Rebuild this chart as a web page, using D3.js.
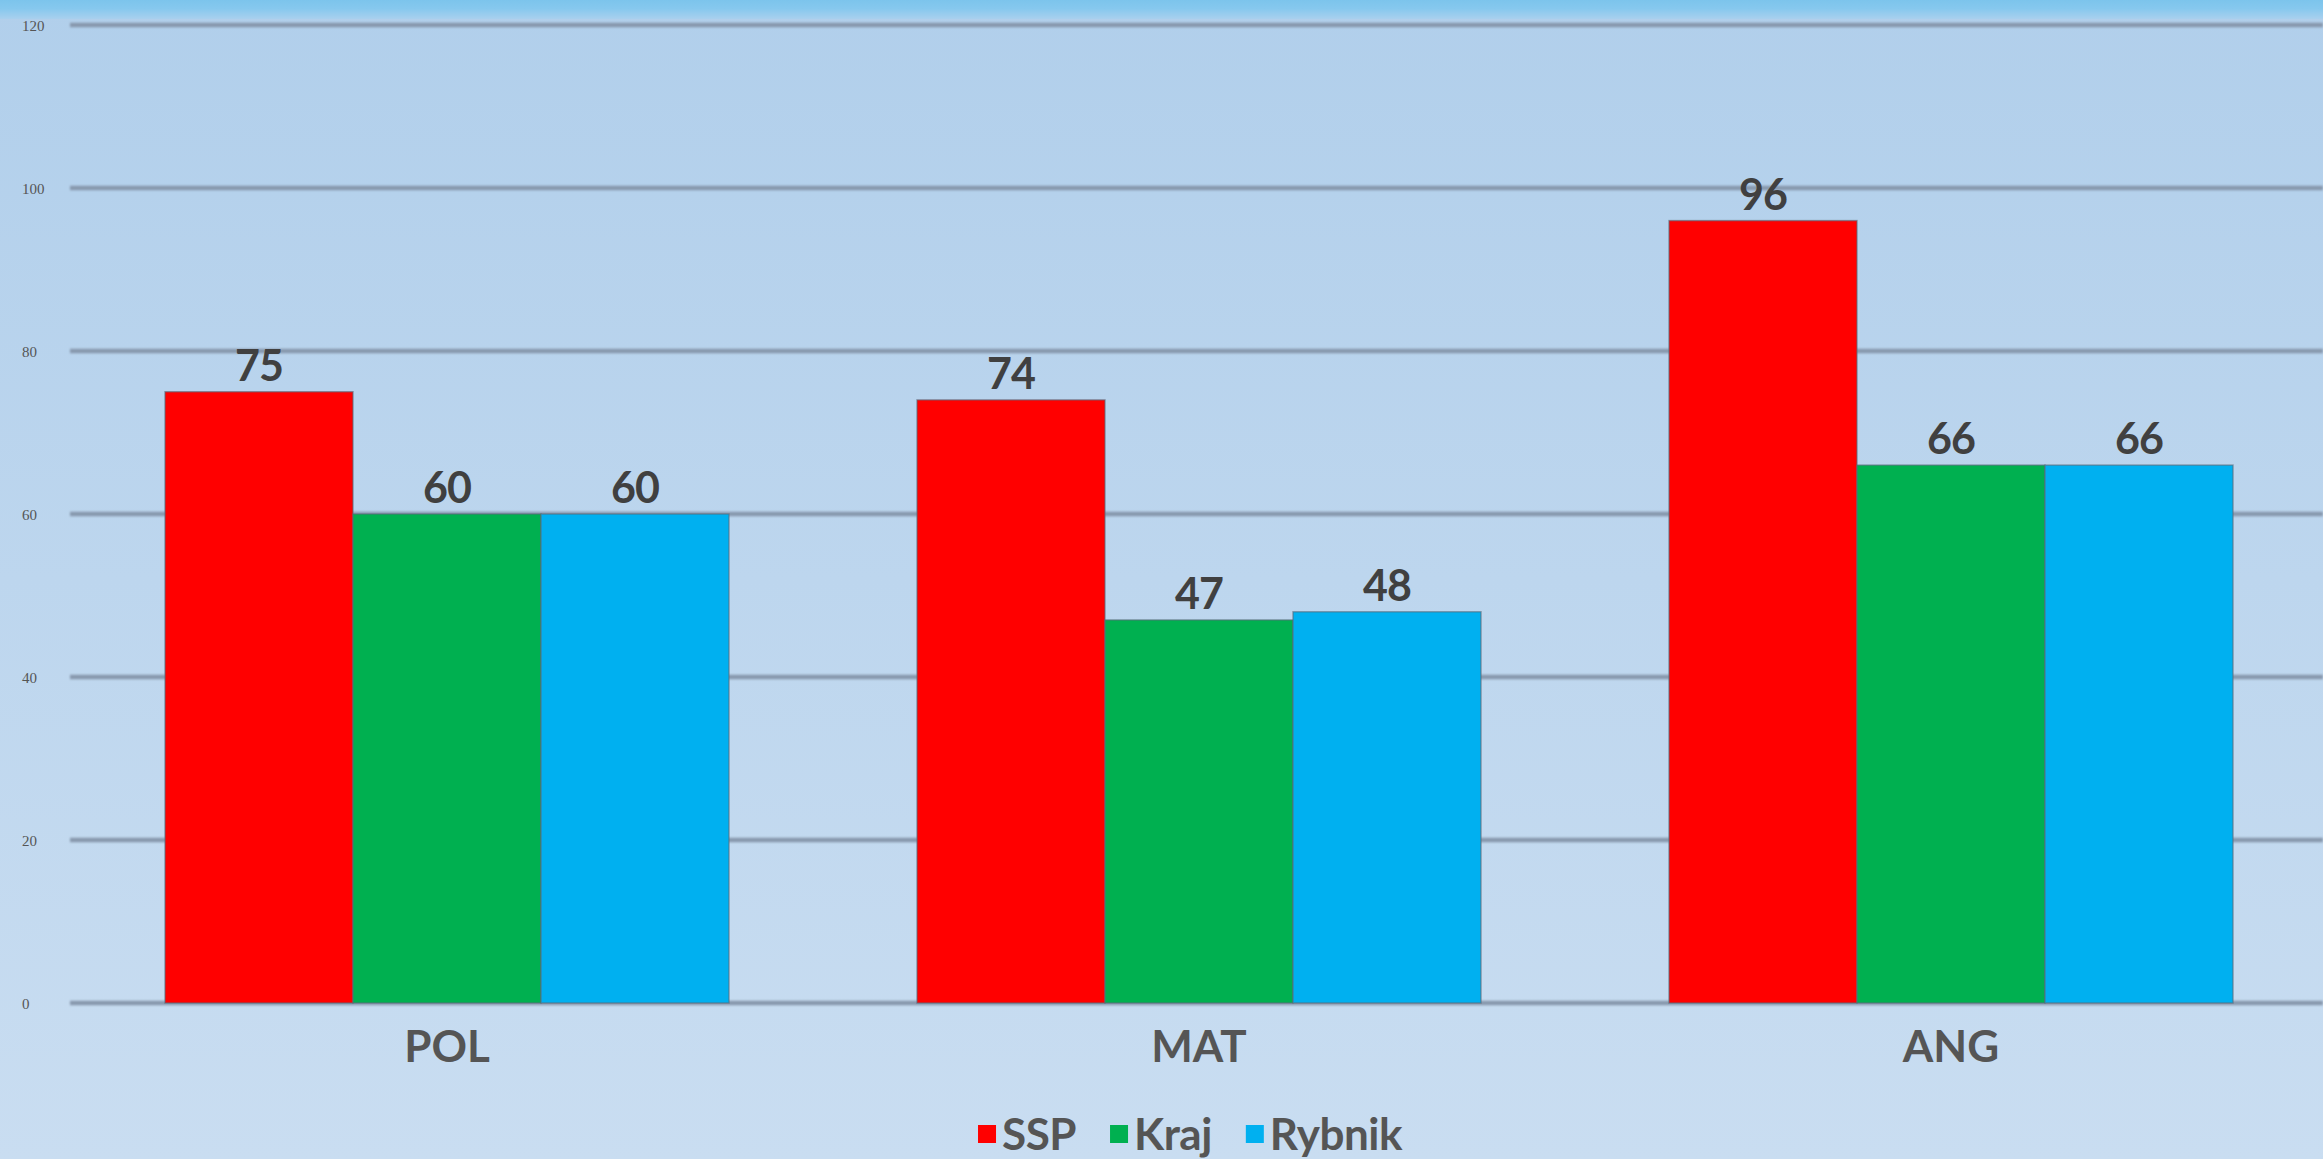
<!DOCTYPE html>
<html>
<head>
<meta charset="utf-8">
<script src="https://cdn.jsdelivr.net/npm/d3@7"></script>
<style>
  html, body { margin: 0; padding: 0; overflow: hidden; background: #c0d8ee; }
  svg { display: block; }
</style>
</head>
<body>
<script>
// ---- data ----
const categories = ["POL", "MAT", "ANG"];
const seriesNames = ["SSP", "Kraj", "Rybnik"];
const ssp = [75, 74, 96];
const kraj = [60, 47, 66];
const rybnik = [60, 48, 66];
const yTicks = [0, 20, 40, 60, 80, 100, 120];
const seriesColors = ["#ff0000", "#00b050", "#00b0f0"];

const seriesValues = [ssp, kraj, rybnik];

const W = 2323, H = 1159;
const svg = d3.select("body").append("svg").attr("width", W).attr("height", H);

const defs = svg.append("defs");
const bg = defs.append("linearGradient").attr("id", "bg").attr("x1", 0).attr("y1", 0).attr("x2", 0).attr("y2", 1);
bg.append("stop").attr("offset", "0").attr("stop-color", "#b1cfeb");
bg.append("stop").attr("offset", "1").attr("stop-color", "#c9ddf1");
const topg = defs.append("linearGradient").attr("id", "topg").attr("x1", 0).attr("y1", 0).attr("x2", 0).attr("y2", 1);
topg.append("stop").attr("offset", "0").attr("stop-color", "#7cc4ec");
topg.append("stop").attr("offset", "0.45").attr("stop-color", "#86c8ee");
topg.append("stop").attr("offset", "1").attr("stop-color", "#a9d0ee");
const blur = defs.append("filter").attr("id", "soft").attr("x", "-5%").attr("y", "-200%").attr("width", "110%").attr("height", "500%");
blur.append("feGaussianBlur").attr("stdDeviation", 1);

svg.append("rect").attr("width", W).attr("height", H).attr("fill", "url(#bg)");
svg.append("rect").attr("width", W).attr("height", 19).attr("fill", "url(#topg)");

// ---- scales ----
const y = d3.scaleLinear().domain([0, 120]).range([1003, 25]);
const x = d3.scaleBand().domain(categories).range([71, 2327]).paddingInner(0.25).paddingOuter(0.125);
const xs = d3.scaleBand().domain(seriesNames).range([0, x.bandwidth()]).padding(0);

// ---- grid ----
const grid = svg.append("g").attr("filter", "url(#soft)");
grid.selectAll("line").data(yTicks).join("line")
  .attr("x1", 70).attr("x2", W)
  .attr("y1", d => y(d)).attr("y2", d => y(d))
  .attr("stroke", "#8798ad").attr("stroke-width", 4.5);

// y axis labels via d3 axis (left aligned)
const yAxis = svg.append("g").attr("transform", "translate(22,0)")
  .call(d3.axisLeft(y).tickValues(yTicks).tickSize(0).tickPadding(0));
yAxis.select(".domain").remove();
yAxis.selectAll("text")
  .attr("text-anchor", "start").attr("x", 0)
  .attr("font-family", "'Liberation Serif', serif").attr("font-size", 15)
  .attr("fill", "#555").attr("dy", "0.35em");

// ---- bars ----
const rows = [];
categories.forEach((c, i) => {
  seriesNames.forEach((s, j) => rows.push({ cat: c, ser: s, val: seriesValues[j][i], color: seriesColors[j] }));
});

svg.append("g").selectAll("rect").data(rows).join("rect")
  .attr("x", d => x(d.cat) + xs(d.ser))
  .attr("y", d => y(d.val))
  .attr("width", xs.bandwidth())
  .attr("height", d => y(0) - y(d.val))
  .attr("fill", d => d.color)
  .attr("stroke", "#5a6a7c").attr("stroke-opacity", 0.6).attr("stroke-width", 1.5);

// value labels
svg.append("g").selectAll("text").data(rows).join("text")
  .attr("x", d => x(d.cat) + xs(d.ser) + xs.bandwidth() / 2)
  .attr("y", d => y(d.val) - 11)
  .attr("text-anchor", "middle")
  .attr("font-family", "Lato, sans-serif").attr("font-weight", 700)
  .attr("font-size", 43).attr("letter-spacing", -1)
  .attr("fill", "#404040")
  .text(d => d.val);

// category axis
const xAxis = svg.append("g").attr("transform", `translate(0,${y(0)})`)
  .call(d3.axisBottom(x).tickSize(0).tickPadding(0));
xAxis.select(".domain").remove();
xAxis.selectAll("text")
  .attr("y", 59).attr("dy", 0)
  .attr("font-family", "Lato, sans-serif").attr("font-weight", 700)
  .attr("font-size", 44).attr("fill", "#555");

// ---- legend ----
const legend = svg.append("g");
const items = legend.selectAll("g").data(seriesNames).join("g");
items.append("rect").attr("width", 18).attr("height", 18).attr("y", 1125)
  .attr("fill", (d, i) => seriesColors[i]);
items.append("text").attr("y", 1150)
  .attr("font-family", "Lato, sans-serif").attr("font-weight", 700)
  .attr("font-size", 44).attr("letter-spacing", -0.5).attr("fill", "#555")
  .text(d => d);
let cx = 0;
const offs = [];
items.each(function () {
  const w = d3.select(this).select("text").node().getComputedTextLength();
  offs.push(cx);
  cx += 18 + 6 + w + 34;
});
const total = cx - 34;
const start = 1190 - total / 2;
items.each(function (d, i) {
  const g = d3.select(this);
  g.select("rect").attr("x", start + offs[i]);
  g.select("text").attr("x", start + offs[i] + 24);
});
</script>
</body>
</html>
